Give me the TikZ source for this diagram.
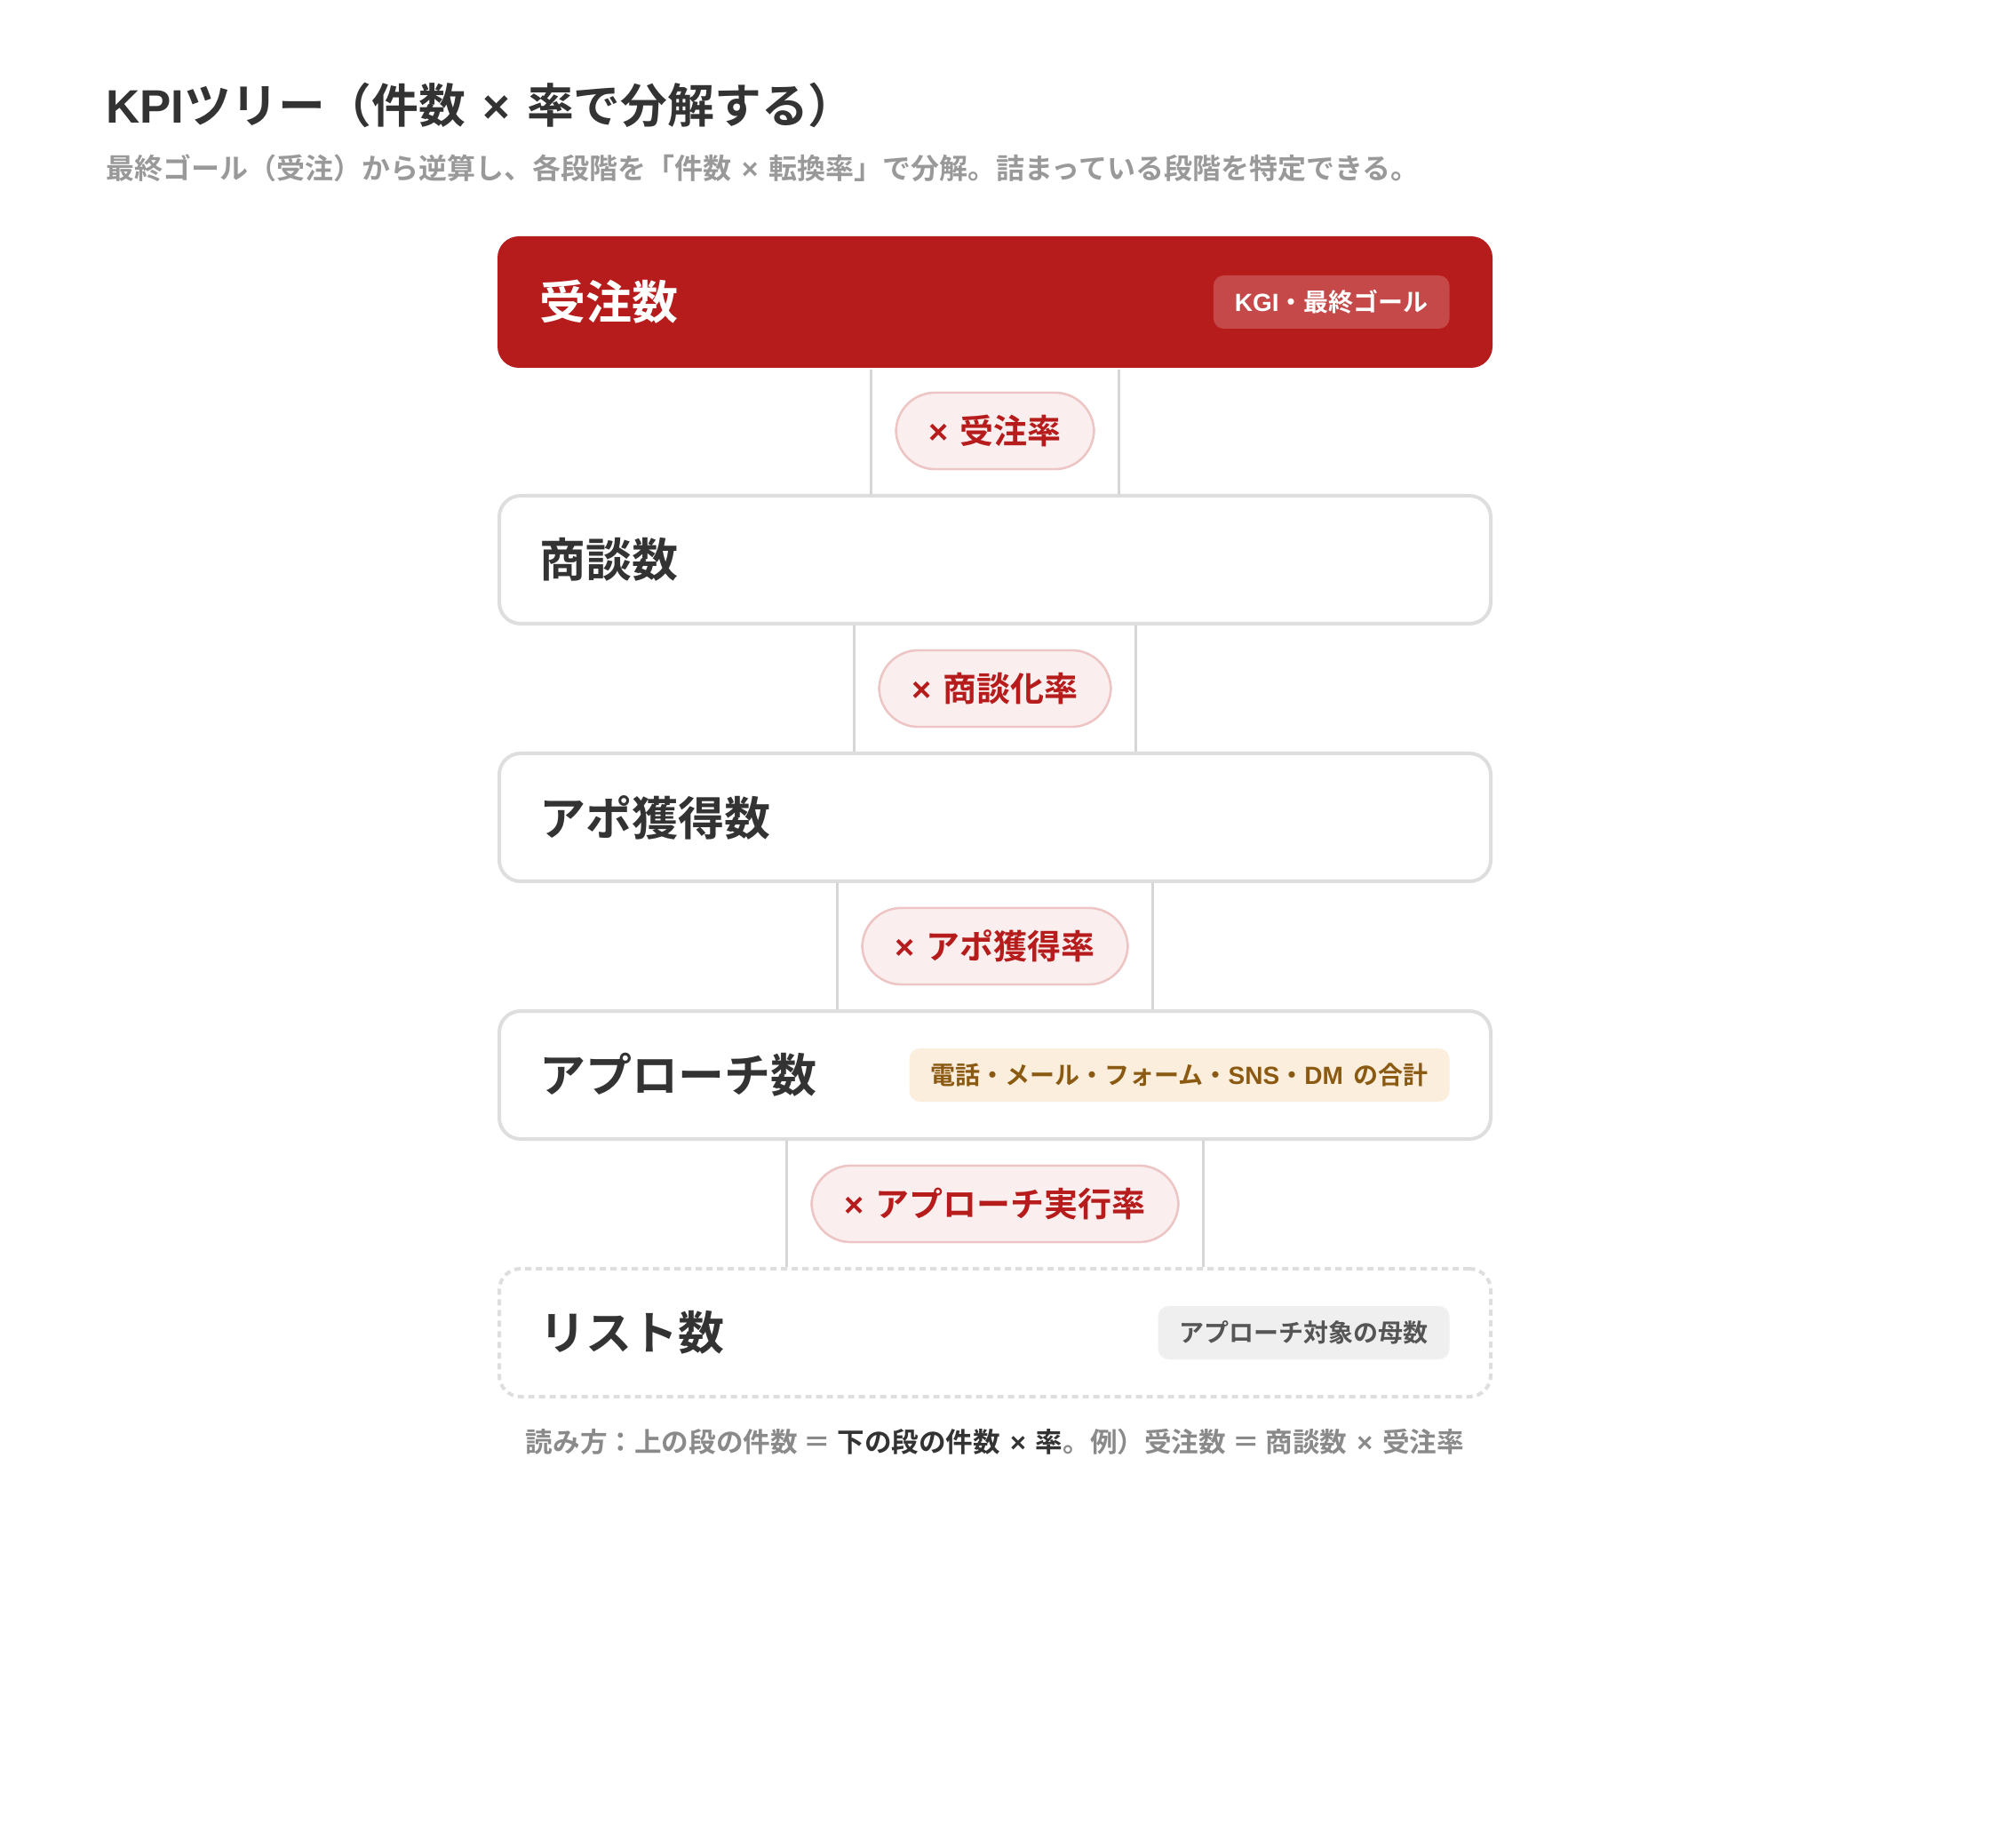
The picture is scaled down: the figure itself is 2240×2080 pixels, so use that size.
\documentclass[tikz,border=0pt]{standalone}
\usepackage{fontspec}
\setmainfont{Noto Sans CJK JP}[BoldFont={Noto Sans CJK JP Bold}]
\newfontfamily\lat{Liberation Sans}
\newcommand{\mulx}{{\lat ×}}
\newcommand{\gapx}{\hspace{0.36em}}
\definecolor{kred}{HTML}{B71C1C}
\definecolor{kbadgered}{HTML}{C54949}
\definecolor{ktitle}{HTML}{333333}
\definecolor{ksub}{HTML}{999999}
\definecolor{kborder}{HTML}{DEDEDE}
\definecolor{kline}{HTML}{D6D6D6}
\definecolor{kpillfill}{HTML}{FAEEEE}
\definecolor{kpillborder}{HTML}{EEC5C5}
\definecolor{korfill}{HTML}{FCEEDD}
\definecolor{kortext}{HTML}{8B5A12}
\definecolor{kgrfill}{HTML}{EFEFEF}
\definecolor{kgrtext}{HTML}{555555}
\definecolor{kfoot}{HTML}{8A8A8A}
\definecolor{kstrong}{HTML}{333333}
\begin{document}
\begin{tikzpicture}[x=0.5pt,y=-0.5pt,
  stagebox/.style={draw=kborder, line width=2pt, fill=white, rounded corners=12pt,
    minimum width=558pt, minimum height=72pt, inner sep=0pt},
  topbox/.style={stagebox, draw=none, fill=kred, minimum width=560pt, minimum height=74pt},
  dashbox/.style={stagebox, dash pattern=on 3.5pt off 2.5pt},
  stagelabel/.style={anchor=west, inner sep=0pt, text=ktitle,
    font=\fontsize{26pt}{30pt}\selectfont\bfseries},
  badge/.style={anchor=east, rounded corners=6pt, minimum height=30pt,
    inner xsep=12pt, inner ysep=0pt, font=\fontsize{14pt}{16pt}\selectfont\bfseries},
  pill/.style={draw=kpillborder, line width=1.2pt, fill=kpillfill, rounded corners=22pt,
    minimum height=43pt, inner xsep=18.2pt, inner ysep=0pt, text=kred,
    font=\fontsize{19pt}{22pt}\selectfont\bfseries},
  conn/.style={draw=kline, line width=1.5pt}]
\useasboundingbox[fill=white] (0,0) rectangle (2240,2080);

% title
\node[anchor=west, inner sep=0pt, text=ktitle, font=\fontsize{26.4pt}{30pt}\selectfont\bfseries]
  (title) at (119,118) {{\lat KPI}ツリー（件数\gapx\mulx\gapx 率で分解する）};
\node[anchor=west, inner sep=0pt, text=ksub, font=\fontsize{16pt}{19pt}\selectfont\bfseries]
  (subtitle) at (119,189) {最終ゴール（受注）から逆算し、各段階を「件数\gapx\mulx\gapx 転換率」で分解。詰まっている段階を特定できる。};

% pills (placed first so connectors can reference them)
\node[pill] (p1) at (1120,485) {\mulx\gapx 受注率};
\node[pill] (p2) at (1120,775) {\mulx\gapx 商談化率};
\node[pill] (p3) at (1120,1065) {\mulx\gapx アポ獲得率};
\node[pill] (p4) at (1120,1355) {\mulx\gapx アプローチ実行率};

% boxes
\node[topbox] (b1) at (1120,340) {};
\node[stagebox] (b2) at (1120,630) {};
\node[stagebox] (b3) at (1120,920) {};
\node[stagebox] (b4) at (1120,1210) {};
\node[dashbox] (b5) at (1120,1500) {};

% connectors
\foreach \p/\a/\b in {p1/b1/b2, p2/b2/b3, p3/b3/b4, p4/b4/b5}{
  \draw[conn] ([xshift=-13.5pt]\p.west |- \a.south) -- ([xshift=-13.5pt]\p.west |- \b.north);
  \draw[conn] ([xshift=13.5pt]\p.east |- \a.south) -- ([xshift=13.5pt]\p.east |- \b.north);
}
% pills redrawn above the connectors
\node[pill] at (p1) {\mulx\gapx 受注率};
\node[pill] at (p2) {\mulx\gapx 商談化率};
\node[pill] at (p3) {\mulx\gapx アポ獲得率};
\node[pill] at (p4) {\mulx\gapx アプローチ実行率};

% labels
\node[stagelabel, text=white] (l1) at (607,340) {受注数};
\node[stagelabel] (l2) at (607,630) {商談数};
\node[stagelabel] (l3) at (607,920) {アポ獲得数};
\node[stagelabel] (l4) at (607,1210) {アプローチ数};
\node[stagelabel] (l5) at (607,1500) {リスト数};

% badges
\node[badge, fill=kbadgered, text=white] (g1) at (1632,340) {{\lat KGI}・最終ゴール};
\node[badge, fill=korfill, text=kortext] (g4) at (1632,1210) {電話・メール・フォーム・{\lat SNS}・{\lat DM}\hspace{0.42em}の合計};
\node[badge, fill=kgrfill, text=kgrtext] (g5) at (1632,1500) {アプローチ対象の母数};

% footer
\node[inner sep=0pt, text=kfoot, font=\fontsize{15.3pt}{18pt}\selectfont\bfseries]
  (foot) at (1120,1623) {読み方：上の段の件数 ＝ \textcolor{kstrong}{下の段の件数\gapx\mulx\gapx 率}。例）受注数 ＝ 商談数\gapx\mulx\gapx 受注率};
\end{tikzpicture}
\end{document}
